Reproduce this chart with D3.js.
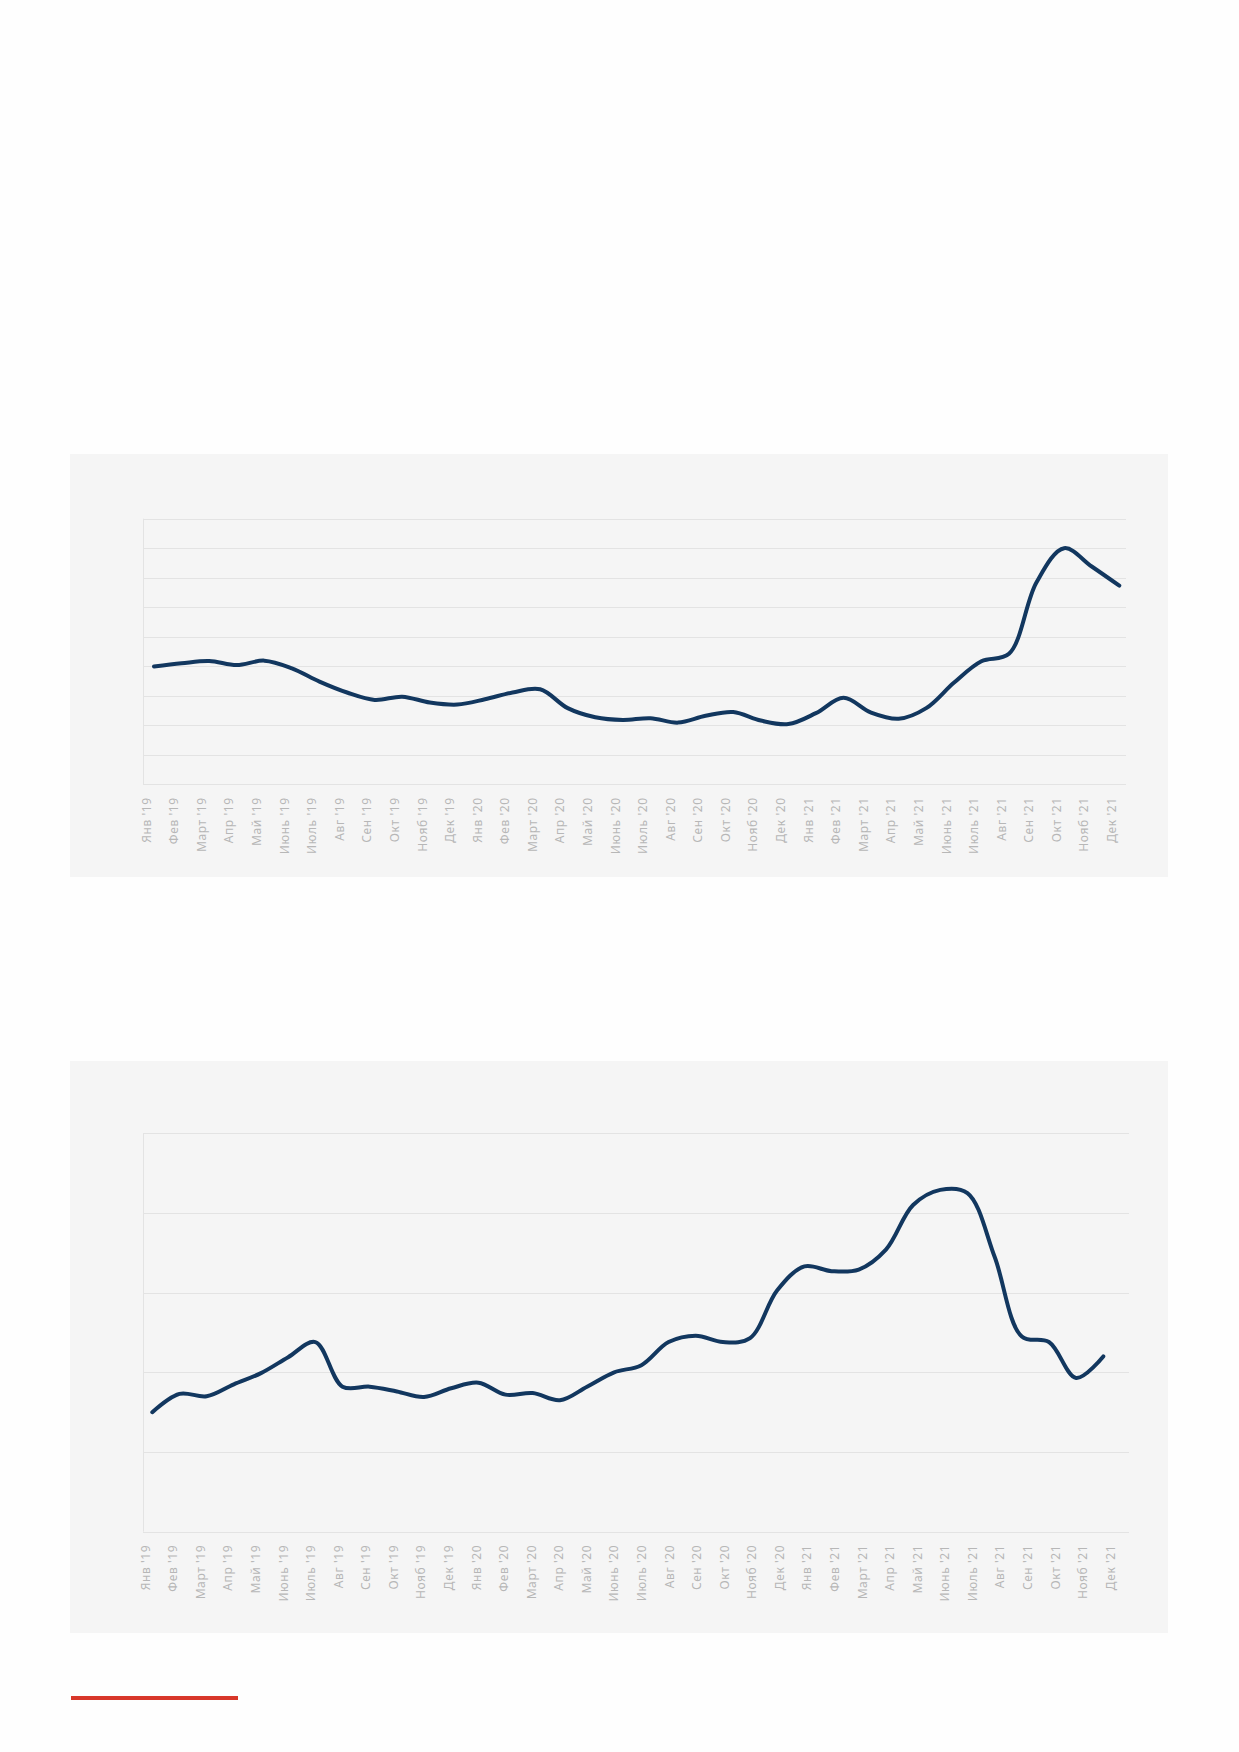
<!DOCTYPE html>
<html lang="ru">
<head>
<meta charset="utf-8">
<script src="https://cdn.jsdelivr.net/npm/d3@7"></script>
<style>
    body { margin: 0; background: #fefefe; }
    .tick text { font-family: 'Noto Sans', sans-serif; font-size: 12px; fill: #b7b7b7; letter-spacing: 0.6px; }
</style>
</head>
<body>
<div class="page"></div>
<script>
// month labels
const monthNames = ['Янв', 'Фев', 'Март', 'Апр', 'Май', 'Июнь', 'Июль', 'Авг', 'Сен', 'Окт', 'Нояб', 'Дек'];
const years = ['19', '20', '21'];
const monthLabels = years.flatMap(y => monthNames.map(m => `${m} '${y}`));

// first chart, values in grid steps (9 steps, no y labels shown)
const firstValues = [
    3.99, 4.10, 4.18, 4.04, 4.19, 3.93, 3.48, 3.11, 2.86, 2.97, 2.77, 2.70,
    2.88, 3.11, 3.22, 2.58, 2.27, 2.18, 2.24, 2.09, 2.32, 2.45, 2.16, 2.04,
    2.41, 2.93, 2.43, 2.22, 2.58, 3.44, 4.17, 4.42, 6.85, 8.00, 7.38, 6.73
];
const firstTicks = [0, 1, 2, 3, 4, 5, 6, 7, 8, 9];

// second chart, values in grid steps (5 steps)
const secondValues = [
    1.50, 1.73, 1.70, 1.85, 1.99, 2.19, 2.38, 1.82, 1.82, 1.76, 1.69, 1.80,
    1.87, 1.72, 1.74, 1.65, 1.82, 2.00, 2.09, 2.38, 2.46, 2.38, 2.43, 3.03,
    3.33, 3.27, 3.29, 3.54, 4.10, 4.29, 4.25, 3.45, 2.45, 2.38, 1.93, 2.20
];
const secondTicks = [0, 1, 2, 3, 4, 5];

const svg_width = 1239;
const svg_height = 1752;

const svg = d3.select('.page')
    .append('svg')
    .attr('width', svg_width)
    .attr('height', svg_height);

svg.append('rect')
    .attr('width', svg_width)
    .attr('height', svg_height)
    .style('fill', '#fefefe');

function drawChart(cfg, values, ticks) {
    // grey panel
    svg.append('rect')
        .attr('x', cfg.panel[0])
        .attr('y', cfg.panel[1])
        .attr('width', cfg.panel[2] - cfg.panel[0])
        .attr('height', cfg.panel[3] - cfg.panel[1])
        .style('fill', '#f5f5f5');

    const yScale = d3.scaleLinear([0, d3.max(ticks)], [cfg.bottom, cfg.top]);
    const xLine = d3.scalePoint(d3.range(values.length), cfg.lineRange);
    const xLabel = d3.scalePoint(monthLabels, cfg.labelRange);

    // gridlines
    svg.append('g')
        .selectAll('line')
        .data(ticks)
        .enter()
        .append('line')
        .attr('x1', cfg.left)
        .attr('x2', cfg.right)
        .attr('y1', d => Math.round(yScale(d)) + 0.5)
        .attr('y2', d => Math.round(yScale(d)) + 0.5)
        .style('stroke', '#e3e3e3')
        .style('stroke-width', 1);

    svg.append('line')
        .attr('x1', cfg.left + 0.5)
        .attr('x2', cfg.left + 0.5)
        .attr('y1', cfg.top)
        .attr('y2', cfg.bottom)
        .style('stroke', '#e3e3e3');

    // x labels
    const xAxis = d3.axisBottom(xLabel)
        .tickSize(0)
        .tickSizeOuter(0);
    const xAxisDraw = svg.append('g')
        .attr('class', 'x axis')
        .attr('transform', `translate(0,${cfg.bottom})`)
        .call(xAxis);
    xAxisDraw.select('.domain').remove();
    xAxisDraw.selectAll('text')
        .attr('transform', 'rotate(-90)')
        .attr('text-anchor', 'end')
        .attr('x', -13)
        .attr('y', 0)
        .attr('dy', '0.35em');

    const line = d3.line()
        .x((d, i) => xLine(i))
        .y(d => yScale(d))
        .curve(d3.curveCatmullRom.alpha(0.5));

    svg.append('path')
        .datum(values)
        .attr('d', line)
        .style('fill', 'none')
        .style('stroke', '#12375f')
        .style('stroke-width', 4)
        .style('stroke-linecap', 'round')
        .style('stroke-linejoin', 'round');
}

drawChart({
    panel: [70, 454, 1168, 877],
    left: 143, right: 1126, top: 518.7, bottom: 784.3,
    lineRange: [154, 1119.3],
    labelRange: [146, 1111.3]
}, firstValues, firstTicks);

drawChart({
    panel: [70, 1061, 1168, 1633],
    left: 143, right: 1129, top: 1133.3, bottom: 1531.7,
    lineRange: [152.3, 1103.3],
    labelRange: [145, 1110]
}, secondValues, secondTicks);

// red accent line at the bottom
svg.append('rect')
    .attr('x', 71)
    .attr('y', 1696)
    .attr('width', 167)
    .attr('height', 4)
    .style('fill', '#d8372a');
</script>
</body>
</html>
